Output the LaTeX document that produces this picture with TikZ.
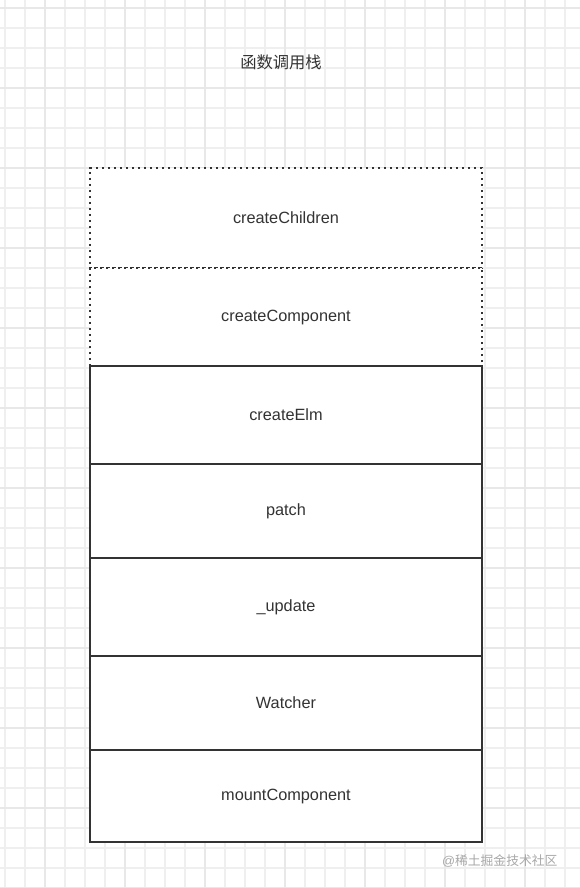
\documentclass[tikz,border=0pt]{standalone}
\usepackage{fontspec}
\setmainfont{Liberation Sans}
\newfontfamily\cjk{Noto Sans CJK SC}
\usepackage{tikz}
\definecolor{stackline}{HTML}{333333}
\definecolor{gridminor}{HTML}{EFEFEF}
\definecolor{gridmajor}{HTML}{E8E8E8}
\definecolor{marktext}{HTML}{A8A8A8}

\begin{document}
\begin{tikzpicture}[x=1pt,y=-1pt,font=\fontsize{16.3}{19}\selectfont,text=stackline,
 frame/.style={draw=stackline,line width=2pt,fill=white,minimum width=392pt,inner sep=0pt},
 pending/.style={frame,dash pattern=on 2.2pt off 3.8pt},
 minor/.style={draw=gridminor,line width=1.3pt},major/.style={draw=gridmajor,line width=1.7pt}]
\useasboundingbox[fill=white] (0,0) rectangle (580,888);
\foreach \i in {0,...,28}{
\draw[minor] (\i*20+5,0)--(\i*20+5,888);}
\foreach \i in {0,...,44}{
\draw[minor] (0,\i*20+8)--(580,\i*20+8);}
\foreach \i in {0,...,7}{
\draw[major] (\i*80+45,0)--(\i*80+45,888);}
\foreach \i in {0,...,11}{
\draw[major] (0,\i*80+8)--(580,\i*80+8);}
\node (title) at (281,62) {\cjk 函数调用栈};
\foreach \y/\h/\id/\name in {218/100/children/createChildren,317/98/component/createComponent}{
\node[pending,minimum height=\h pt] (\id) at (286,\y) {\name};}
\foreach \y/\h/\id/\name in {415/98/elm/createElm,511/94/patch/patch,607/98/update/\_update,703/94/watcher/Watcher,796/92/mount/mountComponent}{
\node[frame,minimum height=\h pt] (\id) at (286,\y) {\name};}
\node[text=marktext,font=\fontsize{12.8}{15}\selectfont,anchor=east] (mark) at (561,861) {@\cjk 稀土掘金技术社区};
\end{tikzpicture}
\end{document}
